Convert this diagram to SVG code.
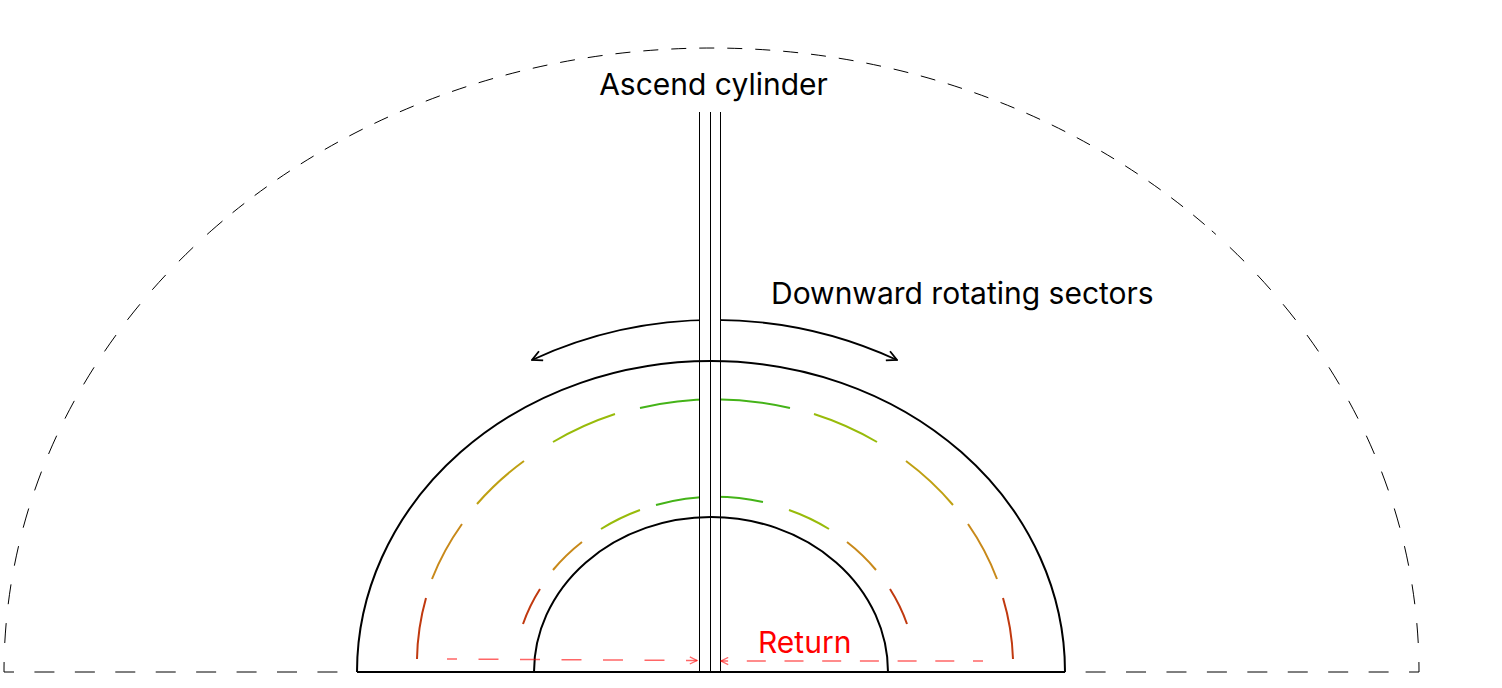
<svg xmlns="http://www.w3.org/2000/svg" width="1502" height="688" viewBox="0 0 1502 688">
  <style>
    .lbl { font-family: Inter, "Noto Sans", "Liberation Sans", sans-serif; font-size: 30px; fill: #000; }
    .ret { fill: #ff0000; }
    .outer { fill: none; stroke: #000; stroke-width: 1; }
    .ring { fill: none; stroke: #000; stroke-width: 2; }
    .cyl { fill: none; stroke: #000; stroke-width: 1; }
    .seg { fill: none; stroke-width: 2; stroke-linecap: butt; }
    .red { stroke: #c0390f; }
    .orange { stroke: #c8891a; }
    .gold { stroke: #bfa012; }
    .yg { stroke: #98bb0a; }
    .green { stroke: #44b318; }
    .retline { fill: none; stroke: #ff0000; stroke-opacity: 0.6; stroke-width: 1.4; }
  </style>
  <defs>
    <marker id="ah" viewBox="0 0 12 12" refX="11" refY="6" markerWidth="12" markerHeight="12" markerUnits="userSpaceOnUse" orient="auto-start-reverse">
      <path d="M1,1 L11,6 L1,11" fill="none" stroke="#000" stroke-width="1.8"/>
    </marker>
    <marker id="rah" viewBox="0 0 10 10" refX="9" refY="5" markerWidth="9" markerHeight="9" markerUnits="userSpaceOnUse" orient="auto">
      <path d="M1,1 L9,5 L1,9" fill="none" stroke="#ff0000" stroke-opacity="0.6" stroke-width="1.4"/>
    </marker>
  </defs>

  <g id="boundary">
    <path class="outer" d="M4,672 A707.5,624 0 0 1 211.2,230.8" stroke-dasharray="20 19" stroke-dashoffset="10"/>
    <path class="outer" d="M211.2,230.8 A707.5,624 0 0 1 1211.8,230.8" stroke-dasharray="15 13"/>
    <path class="outer" d="M1419,672 A707.5,624 0 0 0 1211.8,230.8" stroke-dasharray="20 19" stroke-dashoffset="10"/>
    <path class="outer" d="M4,672 H1419" stroke-dasharray="20 20.43" stroke-dashoffset="10"/>
  </g>

  <g id="sectors">
    <path class="seg red" d="M417,659 A298,266 0 0 1 426,598"/>
    <path class="seg orange" d="M432,579 A298,266 0 0 1 462,524"/>
    <path class="seg gold" d="M477,504 A298,266 0 0 1 524,461"/>
    <path class="seg yg" d="M553,442 A298,266 0 0 1 615,414"/>
    <path class="seg green" d="M640,408 A298,266 0 0 1 790,408"/>
    <path class="seg yg" d="M814,414 A298,266 0 0 1 877,442"/>
    <path class="seg gold" d="M906,461 A298,266 0 0 1 953,505"/>
    <path class="seg orange" d="M968,524 A298,266 0 0 1 997,579"/>
    <path class="seg red" d="M1003,598 A298,266 0 0 1 1013,659"/>

    <path class="seg red" d="M523,624 A200,178 0 0 1 540,589"/>
    <path class="seg orange" d="M553,570 A200,178 0 0 1 582,542"/>
    <path class="seg yg" d="M601,529 A200,178 0 0 1 640,510"/>
    <path class="seg green" d="M656,505 A200,178 0 0 1 763,502"/>
    <path class="seg yg" d="M789,510 A200,178 0 0 1 829,529"/>
    <path class="seg orange" d="M847,542 A200,178 0 0 1 876,570"/>
    <path class="seg red" d="M890,589 A200,178 0 0 1 907,624"/>
  </g>

  <g id="connectors">
    <path d="M532,360 A436,436 0 0 1 897,360" fill="none" stroke="#000" stroke-width="1.8" marker-start="url(#ah)" marker-end="url(#ah)"/>
  </g>

  <g id="cylinder-mask">
    <rect x="699.5" y="112" width="21" height="560" fill="#fff"/>
  </g>

  <g id="ring">
    <path class="ring" d="M357,672 A354,311 0 0 1 1065,672"/>
    <path class="ring" d="M534,672 A177,155 0 0 1 888,672"/>
    <path class="ring" d="M357,672 H1065"/>
  </g>

  <g id="ascend-cylinder">
    <path class="cyl" d="M699.5,112 V672 M710.5,112 V672 M720.5,112 V672"/>
    <text class="lbl" x="713.5" y="95" text-anchor="middle">Ascend cylinder</text>
  </g>

  <g id="rotating-label">
    <text class="lbl" x="771" y="304">Downward rotating sectors</text>
  </g>

  <g id="return">
    <path class="retline" d="M447,659 L697,660.5" stroke-dasharray="20 21.5" stroke-dashoffset="10" marker-end="url(#rah)"/>
    <path class="retline" d="M983,661 L721,661" stroke-dasharray="19 18.7" stroke-dashoffset="9" marker-end="url(#rah)"/>
    <text class="lbl ret" x="758" y="653">Return</text>
  </g>
</svg>
